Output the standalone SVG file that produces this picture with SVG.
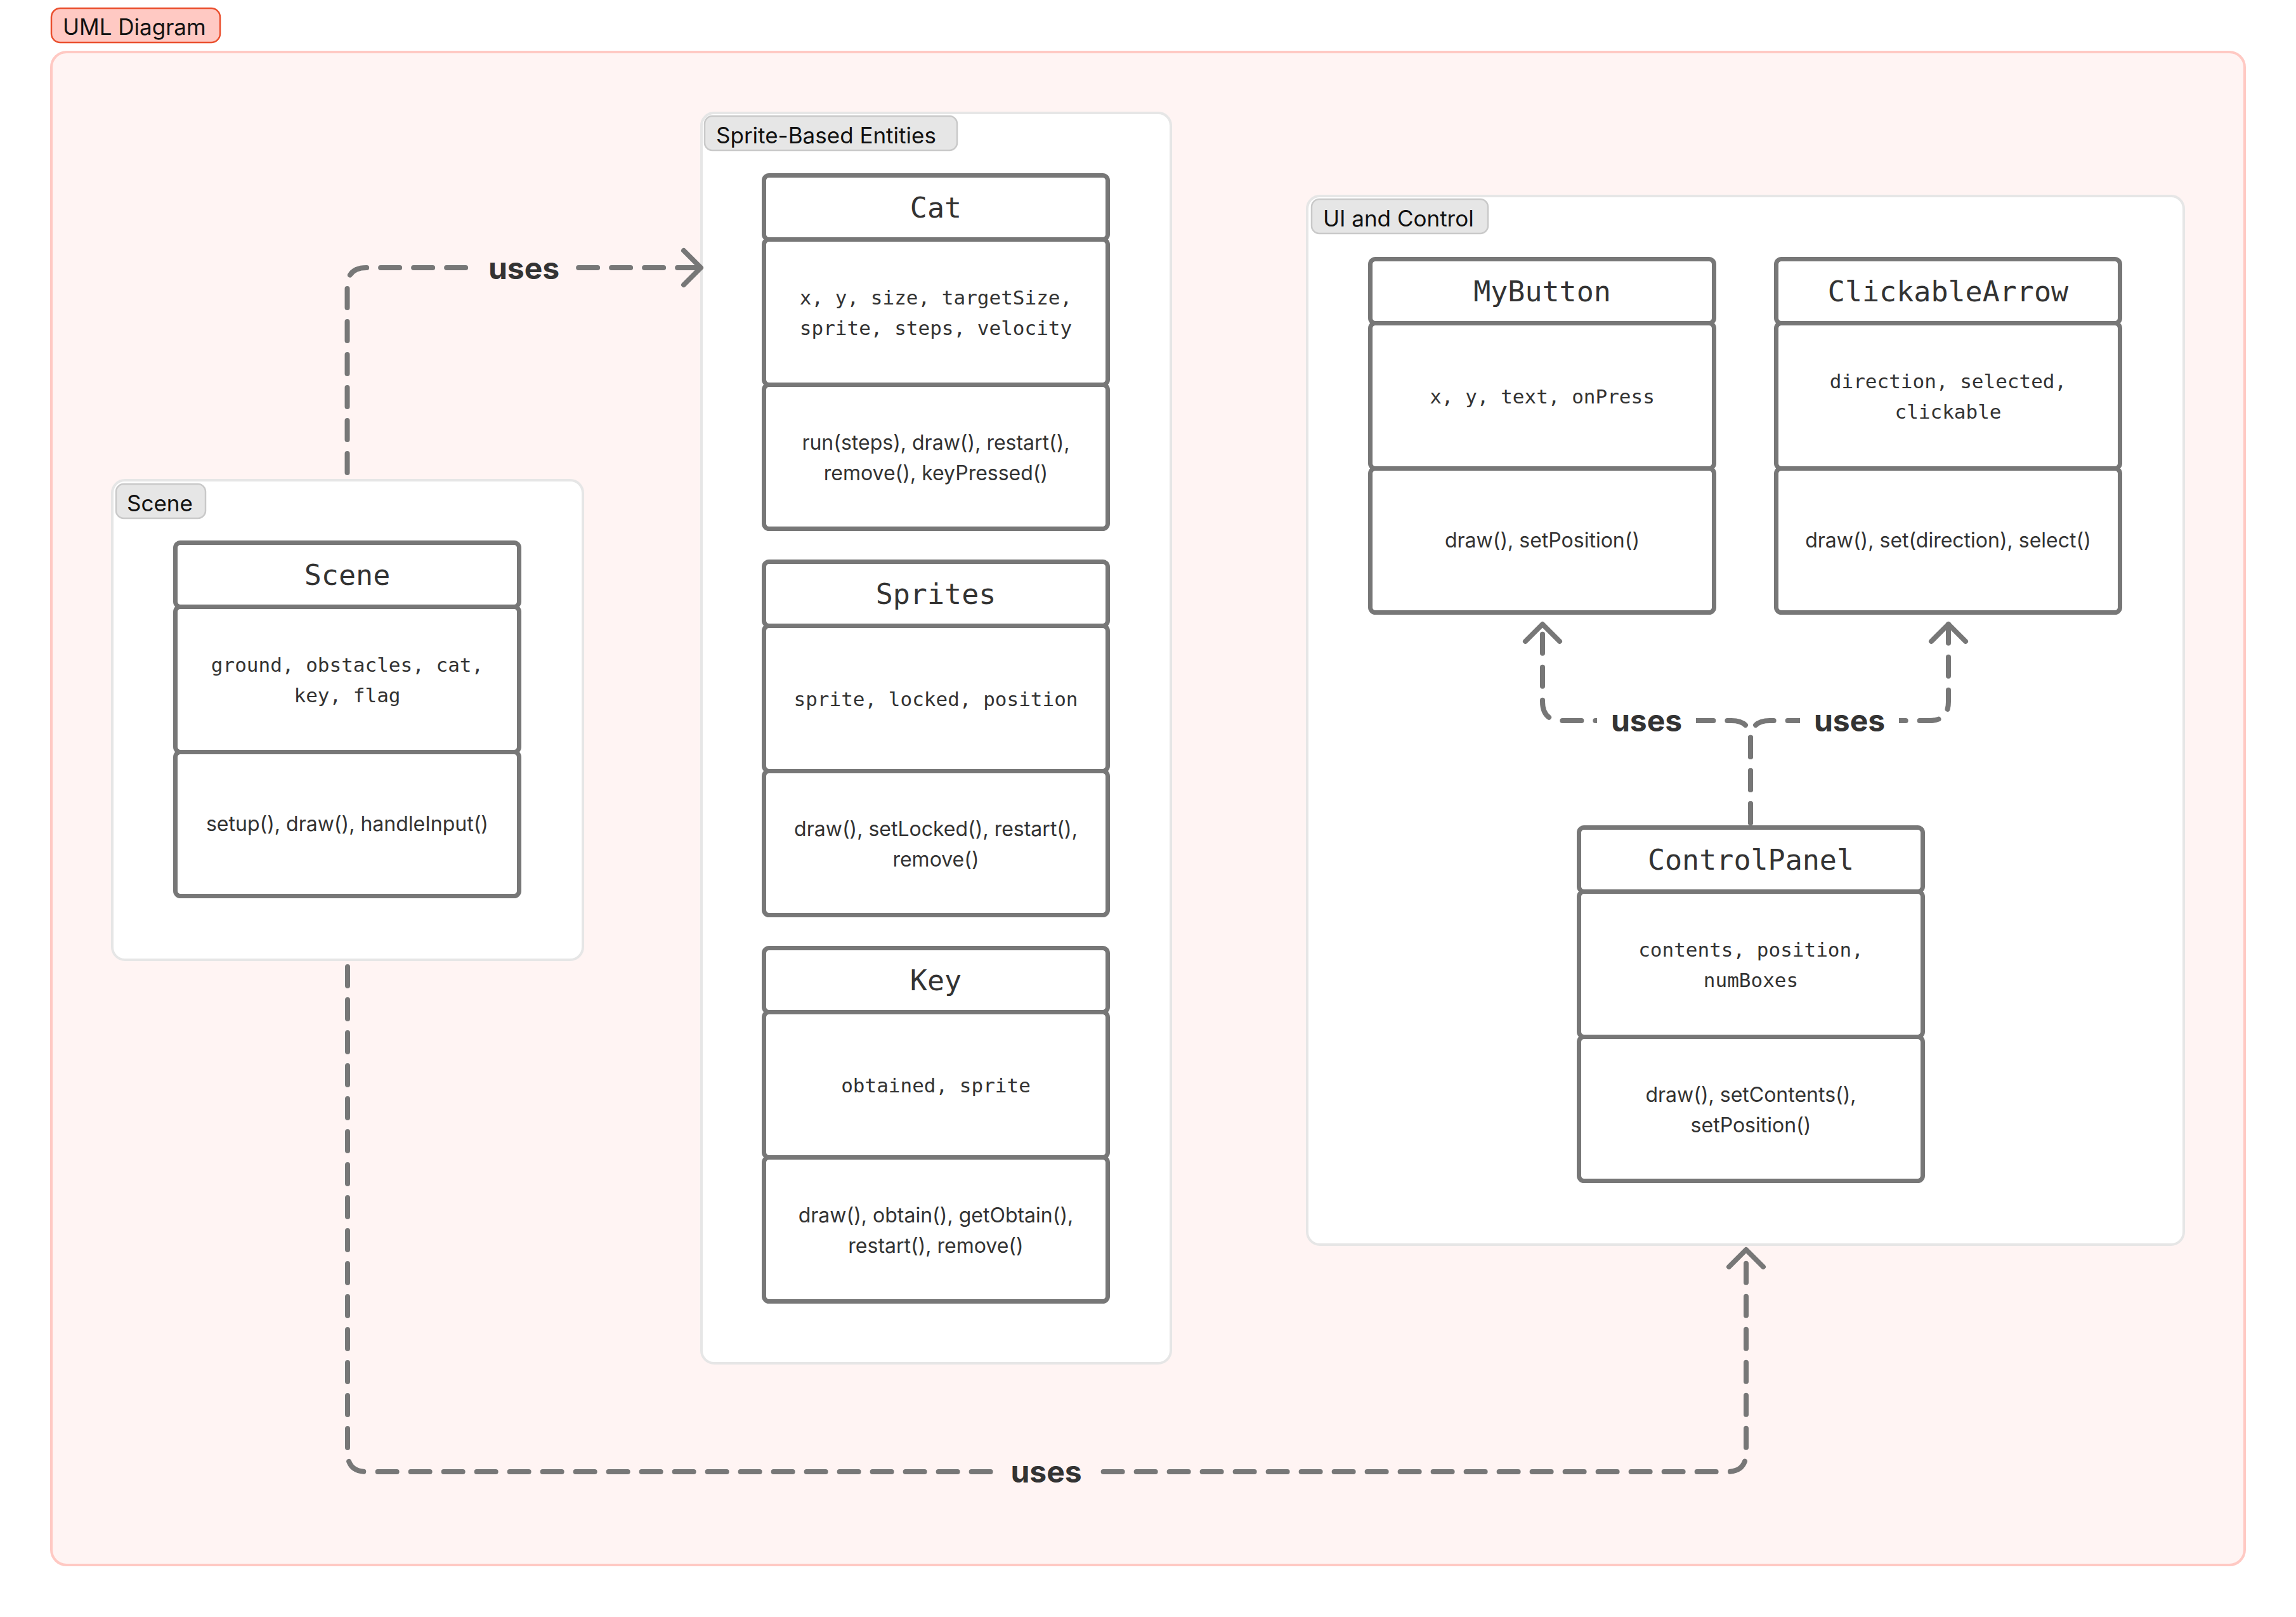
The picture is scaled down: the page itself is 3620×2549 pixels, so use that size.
<svg xmlns="http://www.w3.org/2000/svg" width="3620" height="2549" viewBox="0 0 3620 2549">
  <style>
    .outer { fill: #FFF4F3; stroke: #FFC9C3; stroke-width: 4; }
    .grp { fill: #FFFFFF; stroke: #E6E6E6; stroke-width: 4; }
    .pill { fill: #E6E6E6; stroke: #C9C9C9; stroke-width: 2.5; }
    .pillred { fill: #FFC9C3; stroke: #EA4F2E; stroke-width: 2.5; }
    .pillt { font-family: Inter, "Noto Sans", sans-serif; font-size: 35px; fill: #111111; }
    .cb { fill: #FFFFFF; stroke: #777777; stroke-width: 7; }
    .title { font-family: "DejaVu Sans Mono", "Liberation Mono", monospace; font-size: 45px; fill: #333333; text-anchor: middle; }
    .attr { font-family: "DejaVu Sans Mono", "Liberation Mono", monospace; font-size: 31px; fill: #333333; text-anchor: middle; }
    .meth { font-family: Inter, "Noto Sans", sans-serif; font-size: 32px; fill: #333333; text-anchor: middle; }
    .edge { fill: none; stroke: #777777; stroke-width: 8; stroke-linecap: round; stroke-linejoin: round; stroke-dasharray: 30 22; }
    .elabel { font-family: Inter, "Noto Sans", sans-serif; font-size: 48px; font-weight: 700; fill: #333333; text-anchor: middle; }
  </style>
  <defs>
    <marker id="arrow" markerUnits="userSpaceOnUse" markerWidth="44" markerHeight="72" refX="35" refY="36" orient="auto" overflow="visible">
      <path d="M 8 9 L 35 36 L 8 63" fill="none" stroke="#777777" stroke-width="8" stroke-linecap="round" stroke-linejoin="round"/>
    </marker>
  </defs>

  <g id="uml-diagram">
    <rect class="outer" x="81" y="82" width="3458" height="2385" rx="24"/>
    <rect class="pillred" x="81" y="13" width="266" height="54" rx="14"/>
    <text class="pillt" x="99" y="55">UML Diagram</text>
  </g>

  <g id="group-scene">
    <rect class="grp" x="177" y="757" width="742" height="756" rx="20"/>
    <rect class="pill" x="183" y="763" width="141" height="54" rx="12"/>
    <text class="pillt" x="200" y="806">Scene</text>
  </g>

  <g id="group-sprite">
    <rect class="grp" x="1106" y="178" width="740" height="1971" rx="20"/>
    <rect class="pill" x="1111" y="183" width="398" height="54" rx="12"/>
    <text class="pillt" x="1129" y="226">Sprite-Based Entities</text>
  </g>

  <g id="group-ui">
    <rect class="grp" x="2061" y="309" width="1382" height="1653" rx="20"/>
    <rect class="pill" x="2068" y="314" width="278" height="54" rx="12"/>
    <text class="pillt" x="2086" y="357">UI and Control</text>
  </g>

  <g id="node-scene">
    <rect class="cb" x="276.5" y="855.5" width="542" height="101" rx="8"/>
    <rect class="cb" x="276.5" y="956.5" width="542" height="229" rx="8"/>
    <rect class="cb" x="276.5" y="1185.5" width="542" height="227" rx="8"/>
    <text class="title" x="547.5" y="922">Scene</text>
    <text class="attr" x="547.5" y="1059">ground, obstacles, cat,</text>
    <text class="attr" x="547.5" y="1107">key, flag</text>
    <text class="meth" x="547.5" y="1310">setup(), draw(), handleInput()</text>
  </g>

  <g id="node-cat">
    <rect class="cb" x="1204.5" y="276.5" width="542" height="101" rx="8"/>
    <rect class="cb" x="1204.5" y="377.5" width="542" height="229" rx="8"/>
    <rect class="cb" x="1204.5" y="606.5" width="542" height="227" rx="8"/>
    <text class="title" x="1475.5" y="343">Cat</text>
    <text class="attr" x="1475.5" y="480">x, y, size, targetSize,</text>
    <text class="attr" x="1475.5" y="528">sprite, steps, velocity</text>
    <text class="meth" x="1475.5" y="709">run(steps), draw(), restart(),</text>
    <text class="meth" x="1475.5" y="757">remove(), keyPressed()</text>
  </g>

  <g id="node-sprites">
    <rect class="cb" x="1204.5" y="885.5" width="542" height="101" rx="8"/>
    <rect class="cb" x="1204.5" y="986.5" width="542" height="229" rx="8"/>
    <rect class="cb" x="1204.5" y="1215.5" width="542" height="227" rx="8"/>
    <text class="title" x="1475.5" y="952">Sprites</text>
    <text class="attr" x="1475.5" y="1113">sprite, locked, position</text>
    <text class="meth" x="1475.5" y="1318">draw(), setLocked(), restart(),</text>
    <text class="meth" x="1475.5" y="1366">remove()</text>
  </g>

  <g id="node-key">
    <rect class="cb" x="1204.5" y="1494.5" width="542" height="101" rx="8"/>
    <rect class="cb" x="1204.5" y="1595.5" width="542" height="229" rx="8"/>
    <rect class="cb" x="1204.5" y="1824.5" width="542" height="227" rx="8"/>
    <text class="title" x="1475.5" y="1561">Key</text>
    <text class="attr" x="1475.5" y="1722">obtained, sprite</text>
    <text class="meth" x="1475.5" y="1927">draw(), obtain(), getObtain(),</text>
    <text class="meth" x="1475.5" y="1975">restart(), remove()</text>
  </g>

  <g id="node-mybutton">
    <rect class="cb" x="2160.5" y="408.5" width="542" height="101" rx="8"/>
    <rect class="cb" x="2160.5" y="509.5" width="542" height="229" rx="8"/>
    <rect class="cb" x="2160.5" y="738.5" width="542" height="227" rx="8"/>
    <text class="title" x="2431.5" y="475">MyButton</text>
    <text class="attr" x="2431.5" y="636">x, y, text, onPress</text>
    <text class="meth" x="2431.5" y="863">draw(), setPosition()</text>
  </g>

  <g id="node-clickablearrow">
    <rect class="cb" x="2800.5" y="408.5" width="542" height="101" rx="8"/>
    <rect class="cb" x="2800.5" y="509.5" width="542" height="229" rx="8"/>
    <rect class="cb" x="2800.5" y="738.5" width="542" height="227" rx="8"/>
    <text class="title" x="3071.5" y="475">ClickableArrow</text>
    <text class="attr" x="3071.5" y="612">direction, selected,</text>
    <text class="attr" x="3071.5" y="660">clickable</text>
    <text class="meth" x="3071.5" y="863">draw(), set(direction), select()</text>
  </g>

  <g id="node-controlpanel">
    <rect class="cb" x="2489.5" y="1304.5" width="542" height="101" rx="8"/>
    <rect class="cb" x="2489.5" y="1405.5" width="542" height="229" rx="8"/>
    <rect class="cb" x="2489.5" y="1634.5" width="542" height="227" rx="8"/>
    <text class="title" x="2760.5" y="1371">ControlPanel</text>
    <text class="attr" x="2760.5" y="1508">contents, position,</text>
    <text class="attr" x="2760.5" y="1556">numBoxes</text>
    <text class="meth" x="2760.5" y="1737">draw(), setContents(),</text>
    <text class="meth" x="2760.5" y="1785">setPosition()</text>
  </g>

  <g id="connectors">
    <path class="edge" d="M 547.5 745 V 452 Q 547.5 422 577.5 422 H 1105" marker-end="url(#arrow)"/>
    <rect x="748" y="392" width="156" height="62" fill="#FFF4F3"/>
    <text class="elabel" x="826" y="440">uses</text>

    <path class="edge" d="M 548 1524 V 2290 Q 548 2320 578 2320 H 2723 Q 2753 2320 2753 2290 V 1970" marker-end="url(#arrow)"/>
    <rect x="1571" y="2290" width="157" height="62" fill="#FFF4F3"/>
    <text class="elabel" x="1649.5" y="2337">uses</text>

    <path class="edge" d="M 2760 1297 V 1166 Q 2760 1136 2730 1136 H 2462 Q 2432 1136 2432 1106 V 984" marker-end="url(#arrow)"/>
    <path class="edge" d="M 2760 1297 V 1166 Q 2760 1136 2790 1136 H 3042 Q 3072 1136 3072 1106 V 984" marker-end="url(#arrow)"/>
    <rect x="2518" y="1106" width="156" height="62" fill="#FFFFFF"/>
    <text class="elabel" x="2596" y="1153">uses</text>
    <rect x="2838" y="1106" width="156" height="62" fill="#FFFFFF"/>
    <text class="elabel" x="2916" y="1153">uses</text>
  </g>
</svg>
